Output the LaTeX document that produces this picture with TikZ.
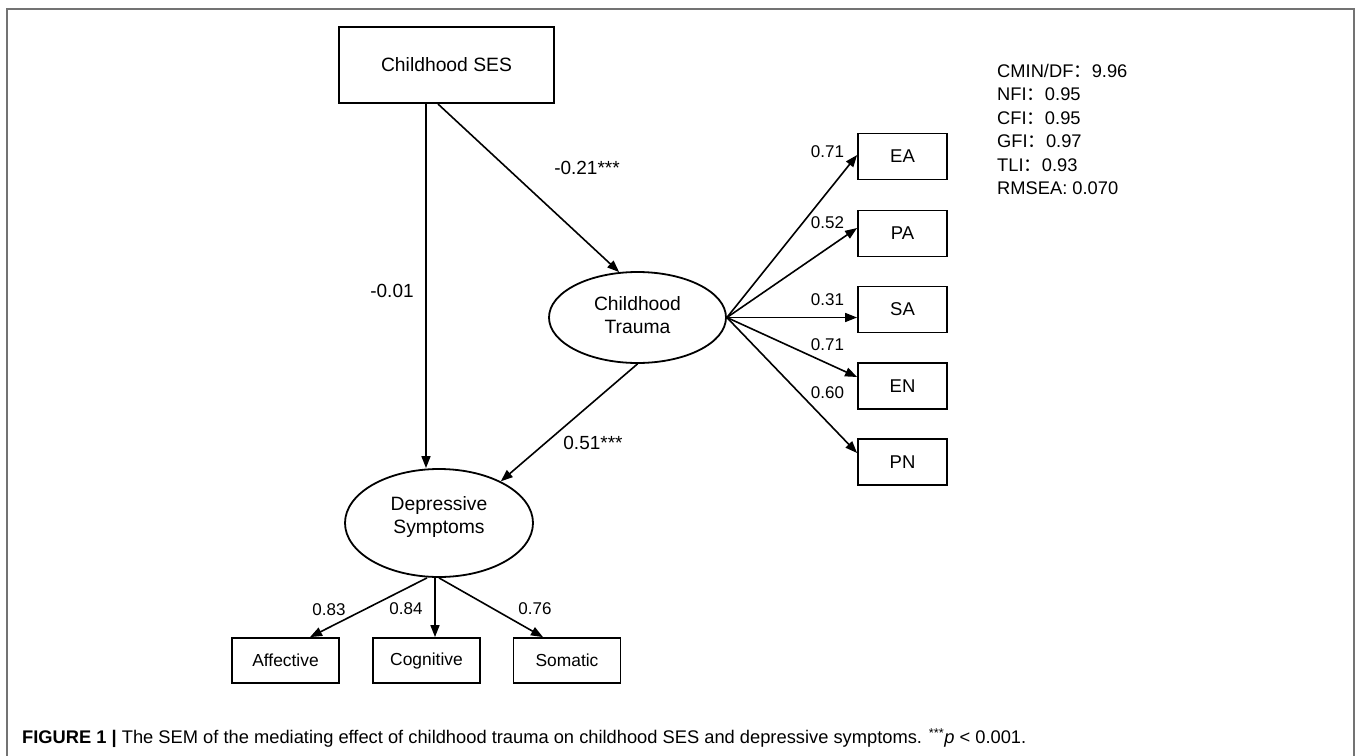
\documentclass[tikz,border=0pt]{standalone}
\usepackage{fontspec}
\setmainfont{Liberation Sans}
\newfontfamily\cjk{Noto Sans CJK SC}
\usetikzlibrary{arrows.meta,shapes.geometric}
\definecolor{framecol}{gray}{0.45}
\begin{document}
\begin{tikzpicture}[x=1pt,y=-1pt,
  rbox/.style={draw,line width=1.8pt,inner sep=0pt,minimum width=89pt,minimum height=46pt,font=\fontsize{18.5}{20}\selectfont},
  bbox/.style={draw,line width=1.8pt,inner sep=0pt,minimum width=107pt,minimum height=45pt,font=\fontsize{17.4}{20}\selectfont},
  lat/.style={ellipse,draw,line width=1.8pt,inner sep=0pt},
  lattext/.style={align=center,inner sep=0pt,font=\fontsize{19.3}{23}\selectfont},
  arr/.style={line width=1.6pt,-{Triangle[length=12pt,width=9pt]}},
  coef/.style={font=\fontsize{19}{22}\selectfont,inner sep=0pt},
  load/.style={font=\fontsize{17}{20}\selectfont,inner sep=0pt},
  fit/.style={align=left,anchor=north west,inner sep=0pt,font=\fontsize{18.3}{23.4}\selectfont}]
\useasboundingbox (0,0) rectangle (1357,755);
\draw[framecol,line width=1.5pt] (7,760) -- (7,9) -- (1354,9) -- (1354,760);

% nodes
\node[draw,line width=2pt,inner sep=0pt,minimum width=215pt,minimum height=76pt,font=\fontsize{19.3}{22}\selectfont] (SES) at (446.5,65) {Childhood SES};
\node[lat,minimum width=177pt,minimum height=91pt] (CT) at (637.5,317.5) {};
\node[lattext] (CTt) at (637.5,315.5) {Childhood\\Trauma};
\node[lat,minimum width=188pt,minimum height=108pt] (DS) at (439,523) {};
\node[lattext] (DSt) at (439,517) {Depressive\\Symptoms};

\node[rbox] (EA) at (902.5,156.5) {EA};
\node[rbox] (PA) at (902.5,233.5) {PA};
\node[rbox] (SA) at (902.5,309.5) {SA};
\node[rbox] (EN) at (902.5,386) {EN};
\node[rbox] (PN) at (902.5,462) {PN};

\node[bbox] (AF) at (285.5,660.5) {Affective};
\node[bbox] (CO) at (426.5,660.5) {Cognitive};
\node[bbox] (SO) at (567,660.5) {Somatic};

% structural paths
\draw[arr] ([xshift=-8.5pt]SES.south) -- (CT.112.7);
\draw[arr] ([xshift=-20.5pt]SES.south) -- ([xshift=-20.5pt]SES.south |- DS.north);
\draw[arr] (CT.south) -- (DS.34);

% trauma loadings
\draw[arr] (CT.east) -- ([yshift=1.5pt]EA.west);
\draw[arr] (CT.east) -- ([yshift=5.5pt]PA.west);
\draw[arr] (CT.east) -- (CT.east -| SA.west);
\draw[arr] (CT.east) -- ([yshift=9pt]EN.west);
\draw[arr] (CT.east) -- ([yshift=9pt]PN.west);

% depressive loadings
\draw[arr] ([xshift=-12pt]DS.south) -- ([xshift=24.5pt]AF.north);
\draw[arr] ([xshift=-4pt]DS.south) -- ([xshift=-4pt]DS.south |- CO.north);
\draw[arr] (DS.south) -- ([xshift=-24pt]SO.north);

% labels
\node[coef] (l1) at (587,168) {-0.21***};
\node[coef] (l2) at (392,291) {-0.01};
\node[coef] (l3) at (593,443) {0.51***};
\node[load] (e1) at (827.5,152) {0.71};
\node[load] (e2) at (827.5,223) {0.52};
\node[load] (e3) at (827.5,300) {0.31};
\node[load] (e4) at (827.5,345) {0.71};
\node[load] (e5) at (827.5,393) {0.60};
\node[load] (d1) at (329,610) {0.83};
\node[load] (d2) at (406,609) {0.84};
\node[load] (d3) at (535,609) {0.76};

% fit indices
\node[fit] (FIT) at (997,64) {CMIN/DF{\cjk ：}9.96\\NFI{\cjk ：}0.95\\CFI{\cjk ：}0.95\\GFI{\cjk ：}0.97\\TLI{\cjk ：}0.93\\RMSEA: 0.070};

% caption
\node[anchor=base west,inner sep=0pt,font=\fontsize{18.3}{20}\selectfont] (CAP) at (22,743.5) {\textbf{FIGURE 1 |} The SEM of the mediating effect of childhood trauma on childhood SES and depressive symptoms. \textsuperscript{***}\textit{p} < 0.001.};
\end{tikzpicture}
\end{document}
